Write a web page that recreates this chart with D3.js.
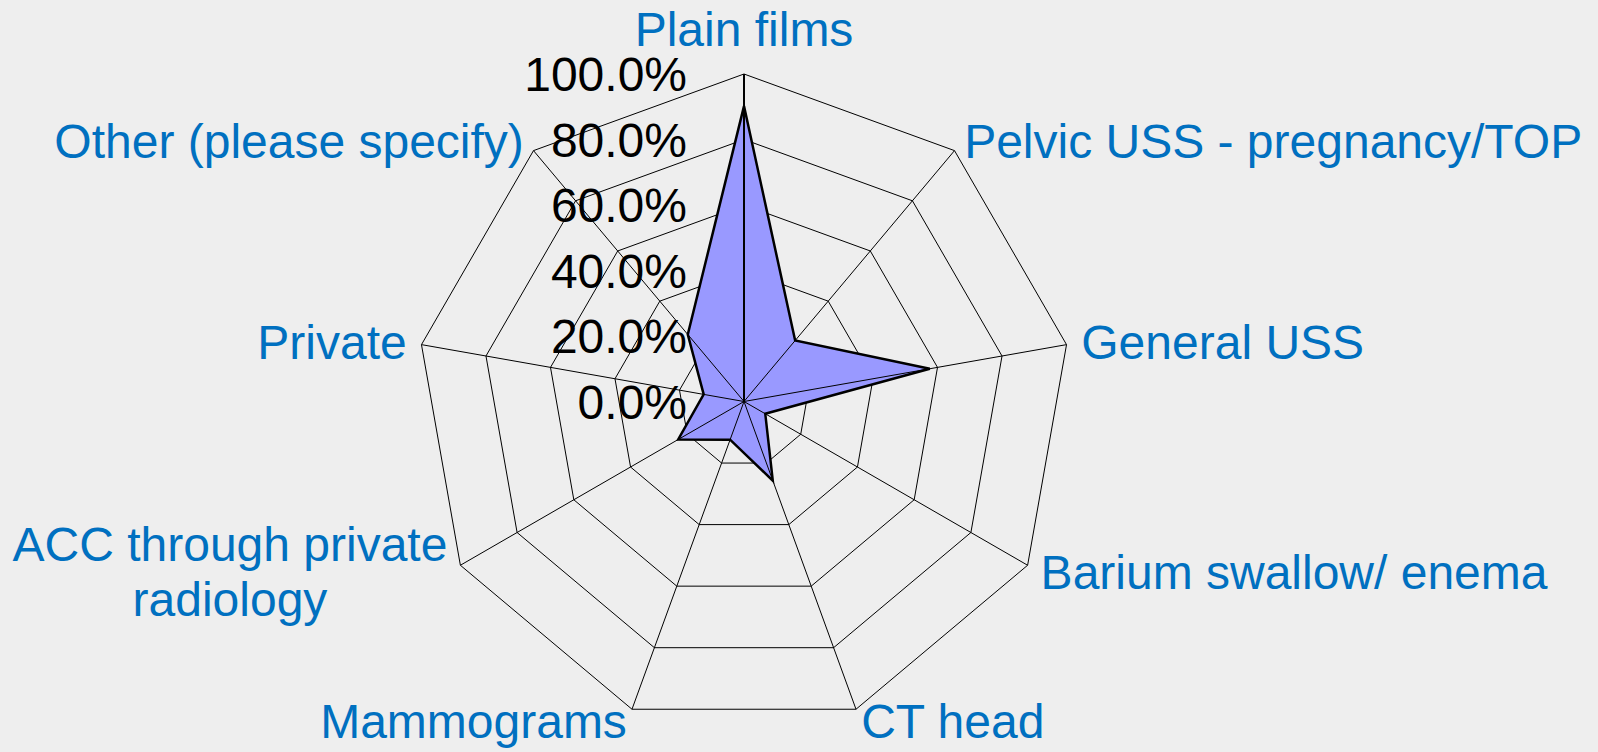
<!DOCTYPE html>
<html>
<head>
<meta charset="utf-8">
<script src="https://cdn.jsdelivr.net/npm/d3@7"></script>
<style>
  html, body { margin: 0; padding: 0; background: #eeeeee; }
  svg { display: block; }
</style>
</head>
<body>
<div id="chart"></div>
<script>
const categories = ['Plain films', 'Pelvic USS - pregnancy/TOP', 'General USS', 'Barium swallow/ enema',
  'CT head', 'Mammograms', 'ACC through private\nradiology', 'Private', 'Other (please specify)'];
const values = [0.902, 0.243, 0.576, 0.075, 0.257, 0.124, 0.232, 0.125, 0.267];
const ticks = [0, 0.2, 0.4, 0.6, 0.8, 1.0];

const width = 1598;
const height = 752;
const cx = 744, cy = 401.5;
const radius = 327.5;
const fontSize = 48;

const svg = d3.select('#chart')
  .append('svg')
  .attr('width', width)
  .attr('height', height)
  .style('background', '#eeeeee');

const g = svg.append('g')
  .attr('transform', `translate(${cx},${cy})`);

const r = d3.scaleLinear().domain([0, 1]).range([0, radius]);
const angle = d3.scaleLinear().domain([0, categories.length]).range([0, 2 * Math.PI]);

const ring = d3.lineRadial()
  .angle((d, i) => angle(i))
  .radius(d => r(d))
  .curve(d3.curveLinearClosed);

// grid rings
g.selectAll('.ring')
  .data(ticks.filter(t => t > 0))
  .enter()
  .append('path')
  .attr('d', t => ring(categories.map(() => t)))
  .attr('fill', 'none')
  .attr('stroke', '#000')
  .attr('stroke-width', 1);

// data area
g.append('path')
  .attr('d', ring(values))
  .attr('fill', '#9999ff')
  .attr('stroke', '#000')
  .attr('stroke-width', 2.5)
  .attr('stroke-linejoin', 'miter');

// spokes
g.selectAll('.spoke')
  .data(categories)
  .enter()
  .append('line')
  .attr('x1', 0).attr('y1', 0)
  .attr('x2', (d, i) => r(1) * Math.sin(angle(i)))
  .attr('y2', (d, i) => -r(1) * Math.cos(angle(i)))
  .attr('stroke', '#000')
  .attr('stroke-width', (d, i) => i === 0 ? 2 : 1);

// tick labels
const fmt = d3.format('.1%');
g.selectAll('.tick')
  .data(ticks)
  .enter()
  .append('text')
  .attr('x', -57)
  .attr('y', t => -r(t) + 17)
  .attr('text-anchor', 'end')
  .style('font-family', '"Liberation Sans", Arial, sans-serif')
  .style('font-size', fontSize + 'px')
  .attr('fill', '#000')
  .text(t => fmt(t));

// category labels
const lineH = 55;
g.selectAll('.cat')
  .data(categories)
  .enter()
  .append('text')
  .each(function (d, i) {
    const a = angle(i);
    const s = Math.sin(a), c = Math.cos(a);
    const tx = r(1) * s, ty = -r(1) * c;
    const lines = d.split('\n');
    let anchor = 'middle', x = tx, y;
    if (Math.abs(s) < 0.05) {
      y = ty - 28;
    } else {
      anchor = s > 0 ? 'start' : 'end';
      x = tx + 15 * s;
      y = ty + 17 - 13 * c - (lines.length - 1) * lineH / 2;
    }
    const t = d3.select(this)
      .attr('text-anchor', anchor)
      .style('font-family', '"Liberation Sans", Arial, sans-serif')
      .style('font-size', fontSize + 'px')
      .attr('fill', '#0070c0');
    if (lines.length > 1) {
      // centered block, right edge next to the tip
      const tmp = t.append('tspan').text(lines[0]);
      const w = tmp.node().getComputedTextLength();
      tmp.remove();
      const mid = anchor === 'end' ? x - w / 2 : x + w / 2;
      t.attr('text-anchor', 'middle');
      lines.forEach((ln, k) => {
        t.append('tspan').attr('x', mid).attr('y', y + k * lineH).text(ln);
      });
    } else {
      t.attr('x', x).attr('y', y).text(d);
    }
  });
</script>
</body>
</html>
